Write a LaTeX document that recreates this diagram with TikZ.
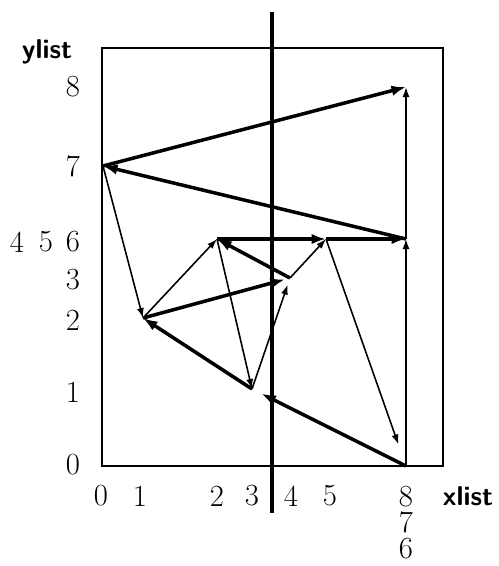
\documentclass[tikz,border=0pt]{standalone}
\usepackage{tikz}
\usetikzlibrary{arrows.meta}

\begin{document}
\begin{tikzpicture}[
  x=0.02cm, y=-0.02cm,
  every node/.style={font=\fontsize{17.5}{20}\selectfont, inner sep=0pt},
  lab/.style={anchor=center},
  stack/.style={font=\fontsize{17.5}{14.8}\selectfont, align=center, anchor=north},
  listname/.style={font=\fontsize{15.5}{18}\selectfont\sffamily\bfseries, anchor=base},
  frame/.style={line width=1pt},
  split/.style={line width=1.8pt},
  xlink/.style={-{Latex[length=2mm,width=1.4mm]}, line width=0.9pt},
  ylink/.style={-{Latex[length=2.9mm,width=2.1mm]}, line width=2pt}
]
  \useasboundingbox (0,0) rectangle (499,566);

  % Frame and split
  \draw[frame] (102,48) rectangle (443,466);
  \coordinate (splittop) at (272,12);
  \coordinate (splitbot) at (272,513);
  \draw[split] (splittop) -- (splitbot);

  % Points
  \coordinate (p0) at (103,166);
  \coordinate (p1) at (143,318);
  \coordinate (p2) at (217,239);
  \coordinate (p3) at (252,389);
  \coordinate (p4) at (290,278);
  \coordinate (p5) at (326,239);
  \coordinate (p6) at (406,466);
  \coordinate (p7) at (406,239);
  \coordinate (p8) at (406,87);

  % Nodes
  \node (ylist) [listname] at (47,58) {ylist};
  \node (xlist) [listname] at (468,505) {xlist};

  \node (y8) [lab] at (73,87) {8};
  \node (y7) [lab] at (73,166) {7};
  \node (y6) [lab] at (73,242) {6};
  \node (y5) [lab] at (46,242) {5};
  \node (y4) [lab] at (17,242) {4};
  \node (y3) [lab] at (73,280) {3};
  \node (y2) [lab] at (73,320) {2};
  \node (y1) [lab] at (73,392) {1};
  \node (y0) [lab] at (73,465) {0};

  \node (x0) [lab] at (101,496) {0};
  \node (x1) [lab] at (140,496) {1};
  \node (x2) [lab] at (217,496) {2};
  \node (x3) [lab] at (252,496) {3};
  \node (x4) [lab] at (291,496) {4};
  \node (x5) [lab] at (330,496) {5};
  \node (x876) [stack] at (406,486) {8\\7\\6};

  % xlist links
  \draw[xlink] (p0) -- (p1);
  \draw[xlink] (p1) -- (p2);
  \draw[xlink] (p2) -- (p3);
  \draw[xlink, shorten >=4pt] (p3) -- (p4);
  \draw[xlink] (p4) -- (p5);
  \draw[xlink, shorten >=13pt] (p5) -- (p6);
  \draw[xlink] (p6) -- (p7);
  \draw[xlink] (p7) -- (p8);

  % ylist links
  \draw[ylink, shorten >=6pt] (p6) -- (p3);
  \draw[ylink] (p3) -- (p1);
  \draw[ylink, shorten >=3pt] (p1) -- (p4);
  \draw[ylink] (p4) -- (p2);
  \draw[ylink] (p2) -- (p5);
  \draw[ylink] (p5) -- (p7);
  \draw[ylink] (p7) -- (p0);
  \draw[ylink] (p0) -- (p8);
\end{tikzpicture}
\end{document}
